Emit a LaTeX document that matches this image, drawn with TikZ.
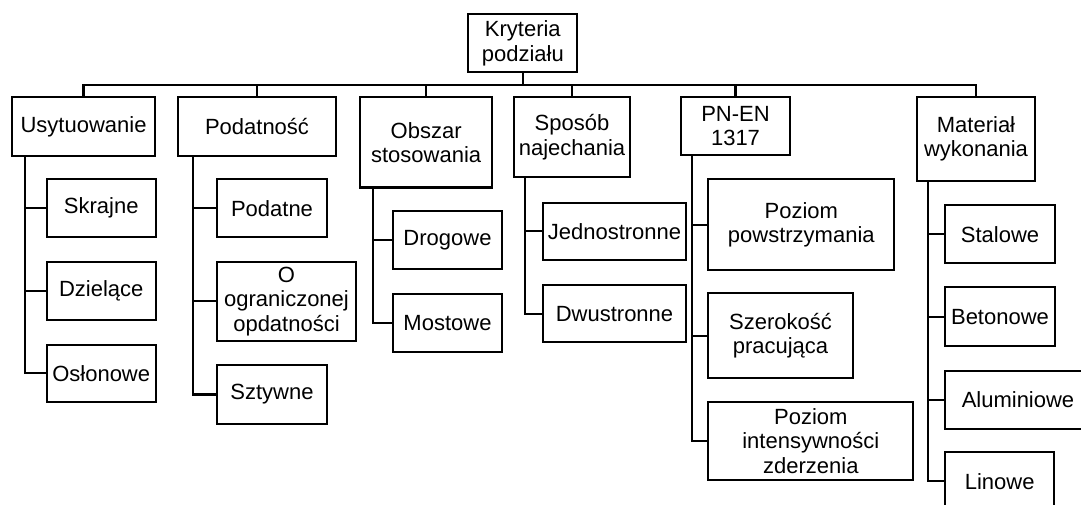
\documentclass[tikz,border=0pt]{standalone}
\usepackage{fontspec}
\setmainfont{Liberation Sans}
\newcommand{\bx}[6]{\node[box, minimum width={(#4-#2)*1pt}, minimum height={(#5-#3)*1pt}] (#1) at ({(#2+#4)/2},{(#3+#5)/2}) {#6};}
\tikzset{
  box/.style={draw=black, line width=2.2pt, rectangle, inner sep=0pt, align=center, fill=white,
              font=\fontsize{22}{24.5}\selectfont},
  conn/.style={draw=black, line width=2.2pt}
}
\begin{document}
\begin{tikzpicture}[x=1pt,y=-1pt]
\useasboundingbox (0,0) rectangle (1081,505);
\clip (0,0) rectangle (1081,505);
\fill[white] (0,0) rectangle (1081,505);
% root and first level
\bx{root}{468.3}{14.3}{577.3}{72.3}{Kryteria\\podziału}
\bx{usyt}{12.1}{97.3}{155}{155.7}{Usytuowanie}
\bx{podat}{178}{97.3}{336}{156}{Podatność}
\bx{obszar}{360}{97.3}{492.3}{187.5}{Obszar\\stosowania}
\bx{sposob}{514}{97.3}{630}{177.3}{Sposób\\najechania}
\bx{pnen}{681}{97.3}{790}{155}{PN-EN\\1317}
\bx{mat}{917}{97.3}{1035}{180.7}{Materiał\\wykonania}
% children
\bx{skr}{46.7}{179.3}{155.7}{237.3}{Skrajne}
\bx{dziel}{46.7}{262.3}{155.7}{319.7}{Dzielące}
\bx{oslon}{46.7}{345}{155.7}{401.7}{Osłonowe}
\bx{podatne}{217.3}{179.3}{326.7}{237.3}{Podatne}
\bx{oogr}{217.3}{261.7}{355.7}{340.7}{O\\ograniczonej\\opdatności}
\bx{sztyw}{217.3}{365}{326.7}{424}{Sztywne}
\bx{drog}{392.7}{210.7}{502.3}{269}{Drogowe}
\bx{most}{392.7}{294}{502.3}{351.7}{Mostowe}
\bx{jedn}{543.3}{202.7}{685.7}{260}{Jednostronne}
\bx{dwus}{543.3}{285}{685.7}{342.3}{Dwustronne}
\bx{ppow}{708.3}{179.3}{894.3}{270}{Poziom\\powstrzymania}
\bx{szer}{708.3}{293.3}{852.7}{378.3}{Szerokość\\pracująca}
\bx{pint}{708.3}{401.7}{913.3}{480}{Poziom\\intensywności\\zderzenia}
\bx{stal}{945}{205}{1055}{263.3}{Stalowe}
\bx{beton}{945}{287.3}{1055}{346}{Betonowe}
\bx{alum}{945}{371}{1091}{429}{Aluminiowe}
\bx{linowe}{945}{452.3}{1054.3}{510}{Linowe}
% bus
\coordinate (bus) at (0,85);
\draw[conn] (root.south) -- (root.south |- bus);
\draw[conn] (usyt.north) -- (usyt.north |- bus) -- (mat.north |- bus) -- (mat.north);
\foreach \n in {podat,obszar,sposob,pnen}{
  \draw[conn] (\n.north) -- (\n.north |- bus);
}
% branches
\foreach \c in {skr,dziel,oslon}{\draw[conn] ([xshift=13.6pt]usyt.south west) |- (\c.west);}
\foreach \c in {podatne,oogr,sztyw}{\draw[conn] ([xshift=16pt]podat.south west) |- (\c.west);}
\foreach \c in {drog,most}{\draw[conn] ([xshift=14.3pt]obszar.south west) |- (\c.west);}
\foreach \c in {jedn,dwus}{\draw[conn] ([xshift=11.7pt]sposob.south west) |- (\c.west);}
\foreach \c in {ppow,szer,pint}{\draw[conn] ([xshift=11.7pt]pnen.south west) |- (\c.west);}
\foreach \c in {stal,beton,alum,linowe}{\draw[conn] ([xshift=12pt]mat.south west) |- (\c.west);}
\end{tikzpicture}
\end{document}
